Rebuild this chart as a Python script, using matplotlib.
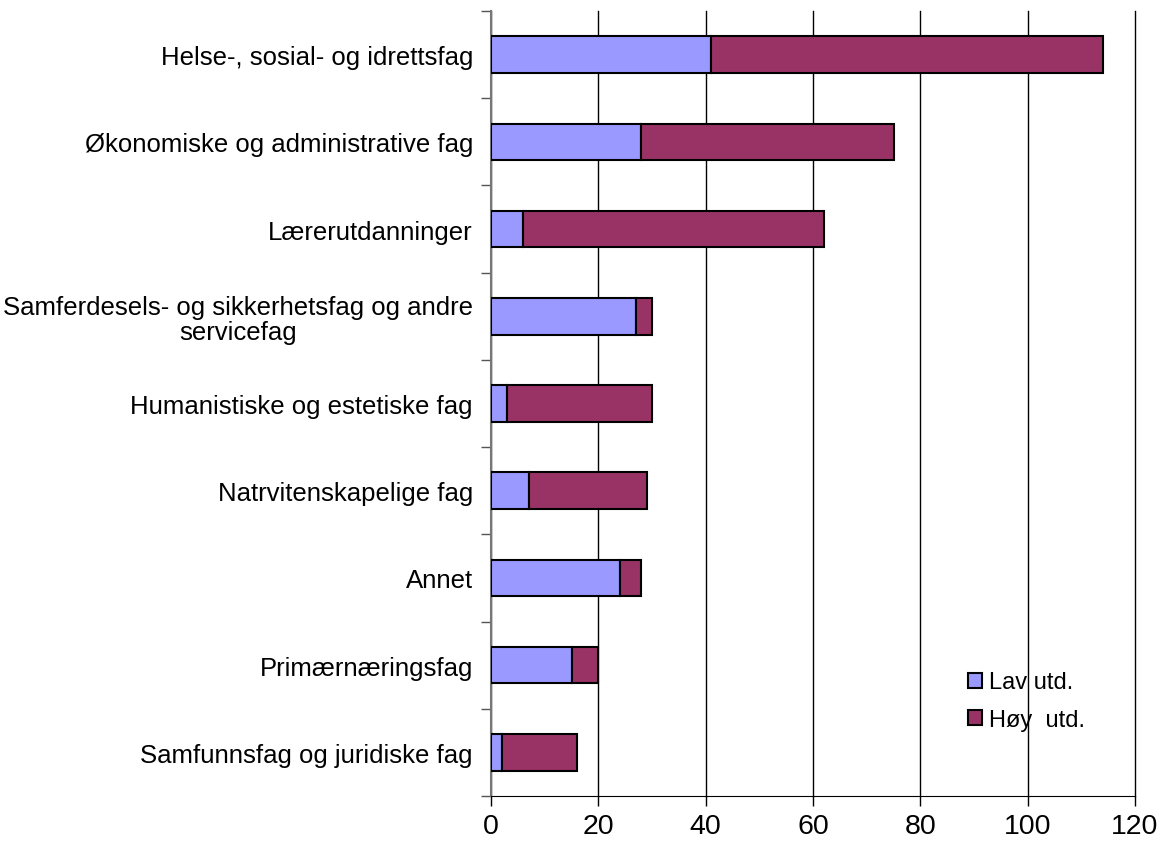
import numpy as np
import matplotlib
matplotlib.use('Agg')
import matplotlib.pyplot as plt

categories = [
    "Helse-, sosial- og idrettsfag",
    "Økonomiske og administrative fag",
    "Lærerutdanninger",
    "Samferdesels- og sikkerhetsfag og andre\nservicefag",
    "Humanistiske og estetiske fag",
    "Natrvitenskapelige fag",
    "Annet",
    "Primærnæringsfag",
    "Samfunnsfag og juridiske fag",
]
lav = [41, 28, 6, 27, 3, 7, 24, 15, 2]
hoy = [73, 47, 56, 3, 27, 22, 4, 5, 14]
xticks = [0, 20, 40, 60, 80, 100, 120]

plt.rcParams['font.family'] = ['Liberation Sans', 'DejaVu Sans']

fig = plt.figure(figsize=(11.68, 8.45), dpi=100)
ax = fig.add_axes([491 / 1168, 1 - 797 / 845, (1135 - 491) / 1168, (797 - 12) / 845])

y = np.arange(len(categories))
ax.barh(y, lav, height=0.42, color='#9999FF', edgecolor='black', linewidth=1.5,
        label='Lav utd.', zorder=3)
ax.barh(y, hoy, left=lav, height=0.42, color='#993366', edgecolor='black', linewidth=1.5,
        label='Høy  utd.', zorder=3)

ax.set_xlim(0, 120)
ax.set_ylim(len(categories) - 0.5, -0.5)
ax.set_xticks(xticks)
ax.set_xticklabels([str(v) for v in xticks], fontsize=20.5)
ax.tick_params(axis='x', direction='out', length=7, width=1, pad=5)

ax.set_yticks(y)
ax.set_yticklabels(categories, fontsize=18.5, multialignment='center', linespacing=1.05)
ax.set_yticks(np.arange(-0.5, len(categories)), minor=True)
ax.tick_params(axis='y', which='major', length=0, pad=13)
ax.tick_params(axis='y', which='minor', length=7, width=1, color='#555555', direction='out')

ax.grid(axis='x', color='black', linewidth=1, zorder=0)
for gl in ax.get_xgridlines():
    gl.set_clip_on(False)
ax.set_axisbelow(True)
for s in ['top', 'right']:
    ax.spines[s].set_visible(False)
ax.spines['left'].set_color('#777777')
ax.spines['left'].set_linewidth(1.5)
ax.spines['bottom'].set_color('black')

leg = ax.legend(loc='lower right', bbox_to_anchor=(0.955, 0.056), frameon=False, fontsize=17,
                handlelength=0.6, handleheight=0.6, handletextpad=0.3, labelspacing=0.65)
for h in leg.legend_handles:
    h.set_linewidth(1.5)

fig.savefig('out.png', dpi=100)
